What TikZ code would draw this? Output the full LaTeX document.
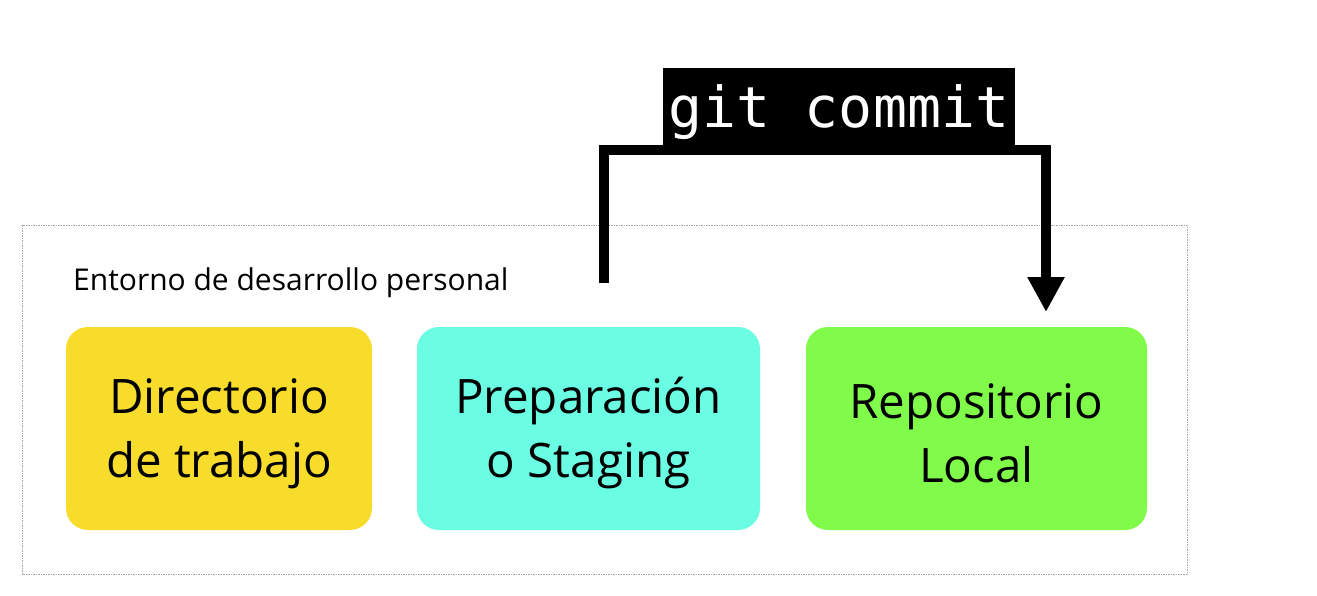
\documentclass[tikz,border=0pt]{standalone}
\usepackage{fontspec}
\setmainfont{Open Sans}
\newfontfamily\monofont{DejaVu Sans Mono}
\usetikzlibrary{arrows.meta}
\definecolor{cyel}{HTML}{F8DC2C}
\definecolor{ccyan}{HTML}{6BFCE4}
\definecolor{cgreen}{HTML}{80FB4A}
\tikzset{
  area/.style={draw=gray!70, line width=0.8pt, dash pattern=on 1.5pt off 1pt},
  stage/.style={rounded corners=22pt, minimum width=#1, minimum height=203pt, inner sep=0pt},
  stagetext/.style={inner sep=0pt, align=center, font=\fontsize{47.5}{64}\selectfont, text=black},
  flow/.style={line width=10pt, -{Triangle[length=35pt,width=35pt]}},
  cmdlabel/.style={fill=black, text=white, inner sep=0pt, minimum width=352pt,
    text height=59pt, text depth=23pt, font=\monofont\fontsize{56.5}{60}\selectfont}
}
\begin{document}
\begin{tikzpicture}[x=1pt,y=-1pt]
\useasboundingbox[fill=white] (0,0) rectangle (1317,595);
\draw[area] (22,225) rectangle (1187,574);
\node[anchor=base west, inner sep=0pt, font=\fontsize{30}{32}\selectfont] (env) at (73,290) {Entorno de desarrollo personal};
\node[stage=306pt, fill=cyel] (wd) at (219,428.5) {};
\node[stage=343pt, fill=ccyan] (stg) at (588.5,428.5) {};
\node[stage=341pt, fill=cgreen] (repo) at (976.5,428.5) {};
\node[stagetext] (wdt) at ([yshift=-5pt]wd.center) {Directorio\\de trabajo};
\node[stagetext] (stgt) at ([yshift=-5pt]stg.center) {Preparación\\o Staging};
\node[stagetext] (repot) at ([yshift=-5pt]repo.center) {Repositorio\\Local};
\node[cmdlabel] (cmd) at (839,109) {git commit};
\coordinate (from) at (604,283);
\coordinate (to) at (1046,312);
\draw[flow] (from) |- (cmd.south) -| (to);
\end{tikzpicture}
\end{document}
